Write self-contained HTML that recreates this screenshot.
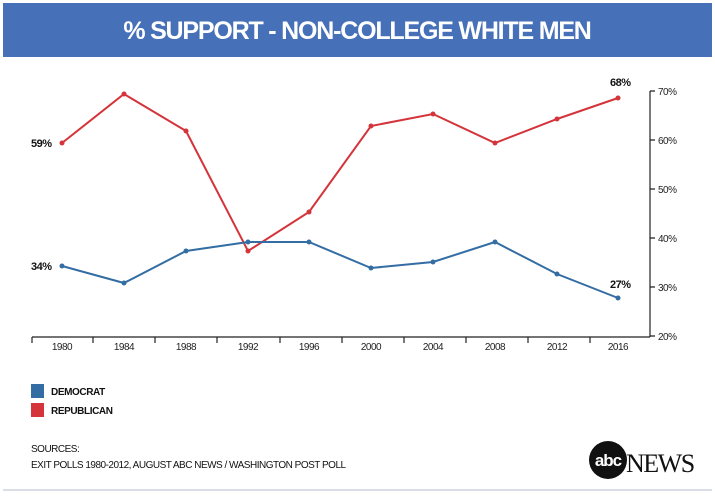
<!DOCTYPE html>
<html><head><style>
body{margin:0;width:715px;height:496px;background:#fff;overflow:hidden;font-family:"Liberation Sans",sans-serif}
</style></head><body>
<svg width="715" height="496" xmlns="http://www.w3.org/2000/svg" font-family="Liberation Sans, sans-serif">
<rect x="3" y="3" width="709" height="54" fill="#4670b7"/>
<text x="357" y="39" text-anchor="middle" fill="#fff" font-size="25" font-weight="bold" letter-spacing="-1.2">% SUPPORT - NON-COLLEGE WHITE MEN</text>
<!-- right axis -->
<g stroke="#222" stroke-width="1.2" fill="none">
<path d="M650 91 V337"/>
<path d="M650 91h5M650 140h5M650 189h5M650 238h5M650 287h5M650 336h5"/>
<path d="M32 337H650"/>
<path d="M32 337v6M93 337v6M155 337v6M217 337v6M280 337v6M342 337v6M404 337v6M466 337v6M528 337v6M590 337v6"/>
</g>
<g font-size="10" fill="#222" letter-spacing="-0.5">
<text x="658" y="95">70%</text><text x="658" y="144">60%</text><text x="658" y="193">50%</text><text x="658" y="242">40%</text><text x="658" y="291">30%</text><text x="658" y="340">20%</text>
</g>
<g font-size="10" fill="#222" text-anchor="middle" letter-spacing="-0.5">
<text x="62" y="350">1980</text><text x="124" y="350">1984</text><text x="186" y="350">1988</text><text x="248" y="350">1992</text><text x="309" y="350">1996</text><text x="371" y="350">2000</text><text x="433" y="350">2004</text><text x="495" y="350">2008</text><text x="557" y="350">2012</text><text x="618" y="350">2016</text>
</g>
<polyline fill="none" stroke="#d4343a" stroke-width="2" points="62,143 124,94 186,131 248,251 309,212 371,126 433,114 495,143 557,119 618,98"/>
<polyline fill="none" stroke="#336da3" stroke-width="2" points="62,266 124,283 186,251 248,242 309,242 371,268 433,262 495,242 557,274 618,298"/>
<g fill="#d4343a"><circle cx="62" cy="143" r="2.5"/><circle cx="124" cy="94" r="2.5"/><circle cx="186" cy="131" r="2.5"/><circle cx="248" cy="251" r="2.5"/><circle cx="309" cy="212" r="2.5"/><circle cx="371" cy="126" r="2.5"/><circle cx="433" cy="114" r="2.5"/><circle cx="495" cy="143" r="2.5"/><circle cx="557" cy="119" r="2.5"/><circle cx="618" cy="98" r="2.5"/></g>
<g fill="#336da3"><circle cx="62" cy="266" r="2.5"/><circle cx="124" cy="283" r="2.5"/><circle cx="186" cy="251" r="2.5"/><circle cx="248" cy="242" r="2.5"/><circle cx="309" cy="242" r="2.5"/><circle cx="371" cy="268" r="2.5"/><circle cx="433" cy="262" r="2.5"/><circle cx="495" cy="242" r="2.5"/><circle cx="557" cy="274" r="2.5"/><circle cx="618" cy="298" r="2.5"/></g>
<g font-size="11" font-weight="bold" fill="#111" letter-spacing="-0.5">
<text x="31" y="147">59%</text><text x="31" y="270">34%</text><text x="610" y="86">68%</text><text x="610" y="288">27%</text>
</g>
<rect x="31" y="384" width="13" height="14" fill="#336da3"/>
<rect x="31" y="403" width="13" height="14" fill="#d4343a"/>
<g font-size="10" font-weight="bold" fill="#111" letter-spacing="-0.4">
<text x="51" y="395">DEMOCRAT</text><text x="51" y="414">REPUBLICAN</text>
</g>
<g font-size="10" fill="#111" letter-spacing="-0.5">
<text x="31" y="452">SOURCES:</text>
<text x="31" y="468">EXIT POLLS 1980-2012, AUGUST ABC NEWS / WASHINGTON POST POLL</text>
</g>
<circle cx="608" cy="460" r="19" fill="#111"/>
<text x="608" y="466" text-anchor="middle" fill="#fff" font-size="17" font-weight="bold" letter-spacing="-1">abc</text>
<text x="626" y="472" fill="#111" font-family="Liberation Serif, serif" font-size="26" letter-spacing="-1.5">NEWS</text>
<rect x="3" y="489" width="709" height="2" fill="#d8dde6"/>
</svg>
</body></html>
